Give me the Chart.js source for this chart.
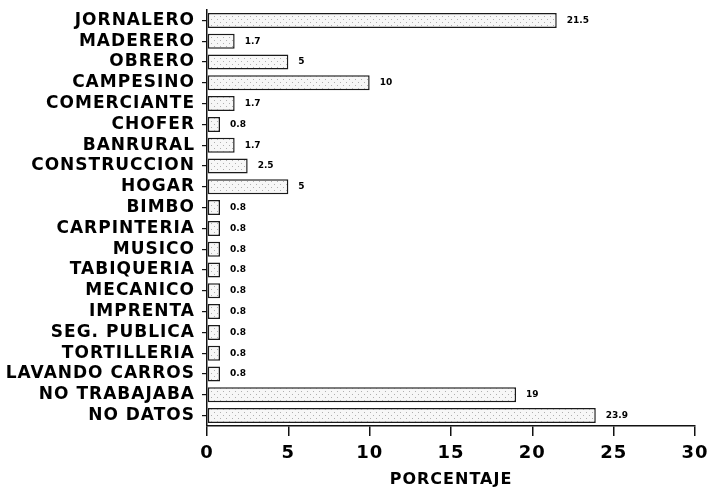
<!DOCTYPE html>
<html>
<head>
<meta charset="utf-8">
<script src="https://cdn.jsdelivr.net/npm/chart.js@4/dist/chart.umd.min.js"></script>
<style>
  html, body { margin: 0; padding: 0; background: #fff; }
  #wrap { width: 709px; height: 490px; position: relative; }
</style>
</head>
<body>
<div id="wrap"><canvas id="chart-data"></canvas></div>
<script>
var categories = [
    "JORNALERO", "MADERERO", "OBRERO", "CAMPESINO", "COMERCIANTE", "CHOFER",
    "BANRURAL", "CONSTRUCCION", "HOGAR", "BIMBO", "CARPINTERIA", "MUSICO",
    "TABIQUERIA", "MECANICO", "IMPRENTA", "SEG. PUBLICA", "TORTILLERIA",
    "LAVANDO CARROS", "NO TRABAJABA", "NO DATOS"
];
var porcentajes = [21.5, 1.7, 5, 10, 1.7, 0.8, 1.7, 2.5, 5, 0.8, 0.8, 0.8, 0.8, 0.8, 0.8, 0.8, 0.8, 0.8, 19, 23.9];
var xTicks = [0, 5, 10, 15, 20, 25, 30];
var axisTitle = "PORCENTAJE";

// light stipple fill like the scanned bars
var pc = document.createElement("canvas");
pc.width = 6; pc.height = 6;
var pctx = pc.getContext("2d");
pctx.fillStyle = "#f7f7f7";
pctx.fillRect(0, 0, 6, 6);
pctx.fillStyle = "#b0b0b0";
pctx.fillRect(1, 1, 1, 1);
pctx.fillRect(4, 4, 1, 1);
var ctx = document.getElementById("chart-data").getContext("2d");
var stipple = ctx.createPattern(pc, "repeat");

// slightly wide lettering for the axes, plain for value labels
var spacing = {
    id: "spacing",
    beforeDraw: function (chart) { chart.ctx.letterSpacing = "1px"; },
    beforeDatasetsDraw: function (chart) { chart.ctx.letterSpacing = "0px"; }
};

var valueLabels = {
    id: "valueLabels",
    afterDatasetsDraw: function (chart) {
        var c = chart.ctx;
        var meta = chart.getDatasetMeta(0);
        c.save();
        c.letterSpacing = "0px";
        c.font = "bold 9px 'DejaVu Sans'";
        c.fillStyle = "#000";
        c.textBaseline = "middle";
        c.textAlign = "left";
        meta.data.forEach(function (bar, i) {
            c.fillText(String(porcentajes[i]), bar.x + 10, bar.y);
        });
        c.restore();
    }
};

var chart = new Chart(ctx, {
    type: "bar",
    data: {
        labels: categories,
        datasets: [
            {
                label: axisTitle,
                data: porcentajes,
                backgroundColor: stipple,
                borderColor: "#1a1a1a",
                borderWidth: 1.5,
                borderSkipped: false,
                barPercentage: 0.72,
                categoryPercentage: 1,
            },
        ],
    },
    options: {
        indexAxis: "y",
        responsive: true,
        maintainAspectRatio: false,
        animation: false,
        layout: {
            padding: { top: 10, right: 14, left: 1, bottom: 0 },
        },
        plugins: {
            legend: { display: false },
            tooltip: { enabled: false },
        },
        scales: {
            x: {
                min: 0,
                max: 30,
                afterBuildTicks: function (scale) {
                    scale.ticks = xTicks.map(function (v) { return { value: v }; });
                },
                afterFit: function (scale) {
                    scale.height = 64;
                    scale.paddingLeft = 0;
                    scale.paddingRight = 0;
                },
                border: { display: true, color: "#111", width: 1.5 },
                grid: {
                    drawOnChartArea: false,
                    drawTicks: true,
                    tickLength: 10,
                    tickColor: "#111",
                    lineWidth: 1.5,
                },
                ticks: {
                    color: "#000",
                    padding: 7,
                    maxRotation: 0,
                    font: { family: "'DejaVu Sans'", size: 18, weight: "bold" },
                },
                title: {
                    display: true,
                    text: axisTitle,
                    color: "#000",
                    padding: { top: 0, bottom: 1 },
                    font: { family: "'DejaVu Sans'", size: 16, weight: "bold" },
                },
            },
            y: {
                afterFit: function (scale) {
                    scale.width = 206;
                    scale.paddingTop = 0;
                    scale.paddingBottom = 0;
                },
                border: { display: true, color: "#111", width: 1.5 },
                grid: {
                    offset: false,
                    drawOnChartArea: false,
                    drawTicks: true,
                    tickLength: 5,
                    tickColor: "#111",
                    lineWidth: 1.2,
                },
                ticks: {
                    color: "#000",
                    padding: 7,
                    autoSkip: false,
                    font: { family: "'DejaVu Sans'", size: 17, weight: "bold" },
                },
            },
        },
    },
    plugins: [spacing, valueLabels],
});
</script>
</body>
</html>
